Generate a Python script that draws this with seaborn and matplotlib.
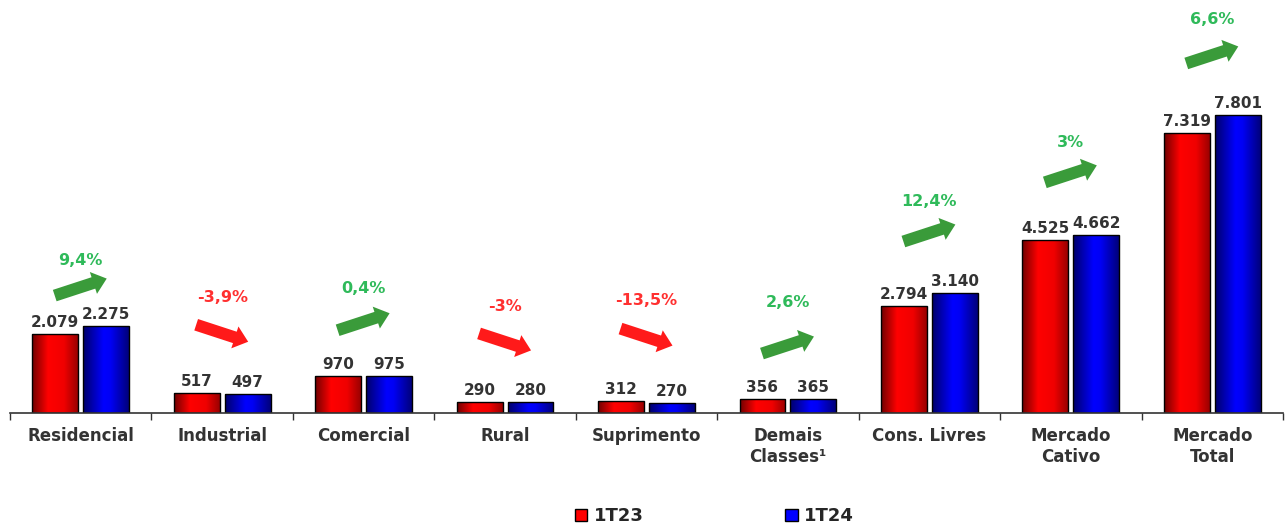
import numpy as np
import pandas as pd
import matplotlib
matplotlib.use("Agg")
import matplotlib.pyplot as plt
from matplotlib.colors import LinearSegmentedColormap
from matplotlib.patches import FancyArrow, Patch
import seaborn as sns

# ---- data ----
categories = ["Residencial", "Industrial", "Comercial", "Rural", "Suprimento",
              "Demais\nClasses¹", "Cons. Livres", "Mercado\nCativo", "Mercado\nTotal"]
values_1t23 = [2079, 517, 970, 290, 312, 356, 2794, 4525, 7319]
values_1t24 = [2275, 497, 975, 280, 270, 365, 3140, 4662, 7801]
labels_1t23 = ["2.079", "517", "970", "290", "312", "356", "2.794", "4.525", "7.319"]
labels_1t24 = ["2.275", "497", "975", "280", "270", "365", "3.140", "4.662", "7.801"]
growth = [9.4, -3.9, 0.4, -3.0, -13.5, 2.6, 12.4, 3.0, 6.6]
growth_labels = ["9,4%", "-3,9%", "0,4%", "-3%", "-13,5%", "2,6%", "12,4%", "3%", "6,6%"]
periods = ["1T23", "1T24"]

# ---- layout (pixels above the taller bar of each group) ----
arrow_lift = [39, 60, 54, 60, 64, 54, 60, 61, 60]
label_lift = [66, 96, 87, 95, 101, 97, 92, 92, 95]

sns.set_theme(style="white")
plt.rcParams["font.family"] = ["DejaVu Sans"]

df = pd.DataFrame({
    "categoria": categories * 2,
    "valor": values_1t23 + values_1t24,
    "periodo": [periods[0]] * len(categories) + [periods[1]] * len(categories),
})

fig = plt.figure(figsize=(12.85, 5.27), dpi=100)
ax = fig.add_axes([10 / 1285, 114 / 527, 1273 / 1285, 413 / 527])

palette = {"1T23": "#ff0000", "1T24": "#0000ff"}
sns.barplot(data=df, x="categoria", y="valor", hue="periodo", order=categories,
            hue_order=periods, palette=palette, width=0.72, gap=0.1,
            edgecolor="black", linewidth=1.0, ax=ax, legend=False, saturation=1)

# gradient fills clipped to each bar
red_cmap = LinearSegmentedColormap.from_list(
    "r", [(0, "#700000"), (0.35, "#ff0000"), (0.7, "#f00000"), (1, "#990000")])
blue_cmap = LinearSegmentedColormap.from_list(
    "b", [(0, "#00006a"), (0.45, "#0000ff"), (0.6, "#0000f5"), (1, "#00007a")])
grad = np.linspace(0, 1, 256).reshape(1, -1)
n = len(categories)
for i, patch in enumerate(ax.patches[: 2 * n]):
    cmap = red_cmap if i < n else blue_cmap
    x0, y0 = patch.get_x(), patch.get_y()
    w, h = patch.get_width(), patch.get_height()
    im = ax.imshow(grad, cmap=cmap, aspect="auto", extent=[x0, x0 + w, y0, y0 + h],
                   zorder=patch.get_zorder() - 0.1, interpolation="bilinear")
    im.set_clip_path(patch)
    patch.set_facecolor("none")
ax.set_xlim(-0.5, n - 0.5)
ax.set_ylim(0, 10810)

# value labels
for i, patch in enumerate(ax.patches[: 2 * n]):
    txt = labels_1t23[i] if i < n else labels_1t24[i - n]
    ax.annotate(txt, (patch.get_x() + patch.get_width() / 2, patch.get_height()),
                xytext=(0, 4), textcoords="offset pixels", ha="center", va="bottom",
                fontsize=11, fontweight="bold", color="#333333")

# growth arrows and percentages
fig.canvas.draw()
for i in range(n):
    top = max(values_1t23[i], values_1t24[i])
    cx, cy = ax.transData.transform((i, top))
    up = growth[i] >= 0
    arrow_color = "#3a9b3a" if up else "#ff1a1a"
    text_color = "#2fba5a" if up else "#ff3030"
    ay = cy + arrow_lift[i]
    dx, dy = 52, (17 if up else -17)
    arr = FancyArrow(cx - dx / 2, ay - dy / 2, dx, dy, width=12, head_width=23,
                     head_length=14, length_includes_head=True, color=arrow_color,
                     linewidth=0, transform=None)
    fig.add_artist(arr)
    fig.text(cx / fig.bbox.width, (cy + label_lift[i]) / fig.bbox.height,
             growth_labels[i], ha="center", va="center", fontsize=11.5,
             fontweight="bold", color=text_color)

# axes styling
sns.despine(ax=ax, left=True, top=True, right=True)
ax.spines["bottom"].set_color("#333333")
ax.spines["bottom"].set_linewidth(1.2)
ax.set_yticks([])
ax.set_xlabel("")
ax.set_ylabel("")
ax.set_xticks(np.arange(-0.5, n, 1.0))
ax.set_xticklabels([])
ax.tick_params(axis="x", which="major", direction="out", length=5, width=1,
               color="#333333", bottom=True)
ax.set_xticks(np.arange(n), minor=True)
ax.set_xticklabels(categories, minor=True, fontsize=12, fontweight="bold",
                   color="#333333", linespacing=1.2)
ax.tick_params(axis="x", which="minor", length=0, pad=10)

# legend
handles = [Patch(facecolor="#ff0000", edgecolor="black", linewidth=1),
           Patch(facecolor="#0000ff", edgecolor="black", linewidth=1)]
fig.legend(handles, periods, loc="center", bbox_to_anchor=(0.556, 0.02),
           ncol=2, frameon=False, handlelength=0.7, handleheight=0.7,
           handletextpad=0.35, columnspacing=7.85, borderpad=0,
           prop={"weight": "bold", "size": 13})

fig.savefig("out.png", dpi=100)
